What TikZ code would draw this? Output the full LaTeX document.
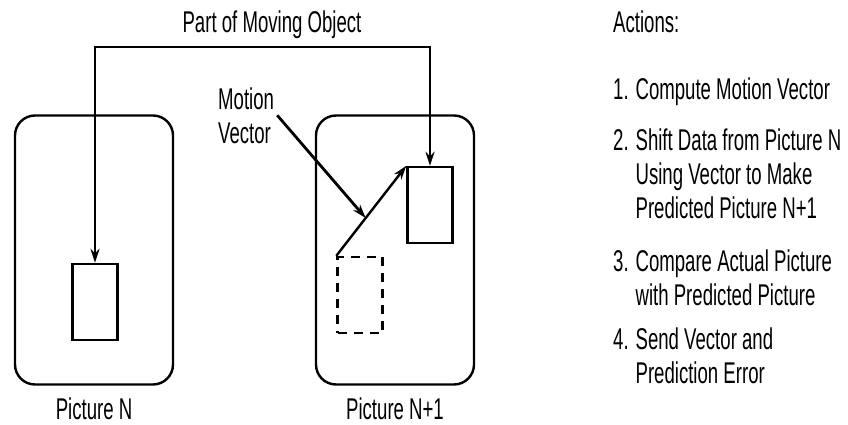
\documentclass[tikz,border=0pt]{standalone}
\usepackage{fontspec}
\setmainfont{Liberation Sans}[FakeStretch=0.62]
\usetikzlibrary{positioning,arrows.meta}

\begin{document}
\begin{tikzpicture}[x=1pt, y=-1pt, line width=2.4pt,
  every node/.style={font=\fontsize{30}{34}\selectfont},
  frame/.style={draw, rounded corners=20pt, minimum width=158pt, minimum height=269pt},
  block/.style={draw, minimum width=45pt, minimum height=76pt},
  caption/.style={inner sep=0pt, align=left, anchor=base west},
  >={Stealth[length=14pt,width=9pt]}]
  \useasboundingbox (0,0) rectangle (848,425);

  \node[frame] (picN) at (94,250) {};
  \node[frame] (picM) at (395,250) {};
  \node[below=11pt of picN, inner sep=0pt] (capN) {Picture N};
  \node[below=11pt of picM, inner sep=0pt] (capM) {Picture N+1};

  \node[block] (blockN) at (95,302) {};
  \node[block] (blockM) at (430,205) {};
  \node[block, dash pattern=on 9pt off 7pt] (ghost) at (360,295) {};

  \coordinate (top) at (272,47);
  \node[above=7pt of top, inner sep=0pt] (moving) {Part of Moving Object};
  \draw[<->] (blockN.north) |- (top) -| (blockM.north);

  \draw[->] (ghost.north west) -- coordinate[pos=0.42] (hit) (blockM.north west);
  \node[caption, align=left] (mvlabel) at (217,143) {Motion\\Vector};
  \draw[->, line width=2.8pt] ([xshift=2pt]mvlabel.east) -- (hit);

  % list of actions (base = last line)
  \node[caption] (actions) at (612,33) {Actions:};
  \node[caption] (step1) at (612,100) {1. Compute Motion Vector};
  \node[caption] (step2) at (612,218) {2. Shift Data from Picture N\\\phantom{2. }Using Vector to Make\\\phantom{2. }Predicted Picture N+1};
  \node[caption] (step3) at (612,305) {3. Compare Actual Picture\\\phantom{3. }with Predicted Picture};
  \node[caption] (step4) at (612,383) {4. Send Vector and\\\phantom{4. }Prediction Error};
\end{tikzpicture}
\end{document}
